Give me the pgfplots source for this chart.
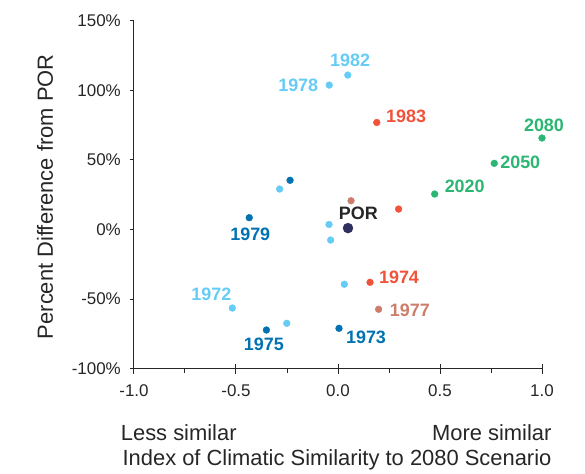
\documentclass[border=0pt]{standalone}
\usepackage{fontspec}
\setmainfont{Liberation Sans}
\usepackage{pgfplots}
\pgfplotsset{compat=1.18}

\definecolor{lblue}{HTML}{66CCF5}
\definecolor{dblue}{HTML}{0072B2}
\definecolor{cred}{HTML}{F0533A}
\definecolor{cbrown}{HTML}{CC7E6B}
\definecolor{cgreen}{HTML}{2BB673}
\definecolor{cnavy}{HTML}{2E2E60}
\definecolor{txt}{HTML}{262626}

\pgfplotsset{
  yrs/.style={only marks, mark=*, mark size=3.4bp, color=#1,
    nodes near coords, point meta=explicit symbolic,
    visualization depends on={value \thisrow{dx}\as\dx},
    visualization depends on={value \thisrow{dy}\as\dy},
    nodes near coords style={anchor=center, inner sep=0pt,
      xshift=\dx bp, yshift=\dy bp,
      font=\fontsize{18}{20}\selectfont\bfseries, text=#1}},
}

\begin{document}
\begin{tikzpicture}
\begin{axis}[
    scale only axis, width=408bp, height=347.5bp,
    xmin=-1, xmax=1, ymin=-100, ymax=150,
    clip=false,
    axis x line*=bottom, axis y line*=left,
    axis line style={-, draw=black!85, line width=1bp},
    xtick={-1,-0.75,-0.5,-0.25,0,0.25,0.5,0.75,1},
    xticklabels={-1.0,,-0.5,,0.0,,0.5,,1.0},
    ytick={-100,-50,0,50,100,150},
    tick align=outside,
    major tick length=4bp,
    tick style={draw=black!85, line width=1bp},
    extra x ticks={-1,-0.5,0,0.5,1},
    extra x tick labels={},
    extra x tick style={xtick align=center, major tick length=10bp},
    xticklabel style={inner sep=0pt, yshift=-12bp, text=txt,
      font=\fontsize{17}{20}\selectfont},
    yticklabel={\pgfmathprintnumber[assume math mode=true]{\tick}\%},
    yticklabel style={inner sep=0pt, xshift=-9bp, text=txt,
      font=\fontsize{17}{20}\selectfont},
]
\coordinate (SW) at (rel axis cs:0,0);
\coordinate (NE) at (rel axis cs:1,1);

\addplot[yrs=lblue] table[meta=lab] {
x y lab dx dy
0.048 111.1 1982 2.3 15
-0.043 103.9 1978 -31 0
-0.044 3.6 {} 0 0
-0.036 -7.6 {} 0 0
-0.286 29.1 {} 0 0
-0.518 -56.5 1972 -21 14
-0.251 -67.5 {} 0 0
0.031 -39.4 {} 0 0
};
\addplot[yrs=dblue] table[meta=lab] {
x y lab dx dy
-0.235 35.4 {} 0 0
-0.435 8.5 1979 1 -16.6
-0.351 -72.3 1975 -2.6 -14.3
0.005 -71.1 1973 27 -9
};
\addplot[yrs=cred] table[meta=lab] {
x y lab dx dy
0.190 77.0 1983 29.3 5.8
0.297 14.7 {} 0 0
0.157 -38.0 1974 29 5
};
\addplot[yrs=cbrown] table[meta=lab] {
x y lab dx dy
0.064 20.7 {} 0 0
0.199 -57.4 1977 31.3 -1.4
};
\addplot[yrs=cgreen] table[meta=lab] {
x y lab dx dy
1.000 65.8 2080 2 12.3
0.766 47.6 2050 26 0.6
0.474 25.5 2020 30 7.3
};
\addplot[yrs=cnavy, mark size=5bp,
  nodes near coords style={text=txt}] table[meta=lab] {
x y lab dx dy
0.049 1.0 POR 10.3 14.7
};

\node[font=\fontsize{22}{26}\selectfont, text=txt, inner sep=0pt, anchor=base west]
  at ([xshift=-13.3bp, yshift=-72.2bp]rel axis cs:0,0) {Less similar};
\node[font=\fontsize{22}{26}\selectfont, text=txt, inner sep=0pt, anchor=base east]
  at ([xshift=9.7bp, yshift=-72.2bp]rel axis cs:1,0) {More similar};
\node[font=\fontsize{22}{26}\selectfont, text=txt, inner sep=0pt, anchor=base]
  at ([xshift=-1bp, yshift=-97.2bp]rel axis cs:0.5,0) {Index of Climatic Similarity to 2080 Scenario};
\node[font=\fontsize{22}{26}\selectfont, text=txt, inner sep=0pt, anchor=base, rotate=90]
  at ([xshift=-81bp, yshift=-2bp]rel axis cs:0,0.5) {Percent Difference from POR};
\end{axis}
\pgfresetboundingbox
\path ([shift={(-134bp,-105.5bp)}]SW) rectangle ([shift={(43bp,21bp)}]NE);
\end{tikzpicture}
\end{document}
